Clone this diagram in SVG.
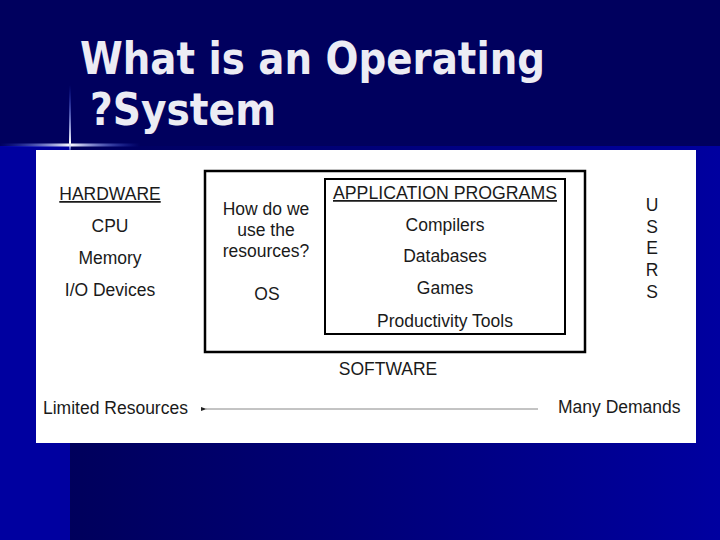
<svg xmlns="http://www.w3.org/2000/svg" width="720" height="540" viewBox="0 0 720 540">
<defs>
<linearGradient id="bg" x1="0" y1="0" x2="1" y2="0">
<stop offset="0" stop-color="#00005c"/>
<stop offset="0.45" stop-color="#000078"/>
<stop offset="1" stop-color="#0000a0"/>
</linearGradient>
<linearGradient id="hglow" x1="0" y1="0" x2="1" y2="0">
<stop offset="0" stop-color="#3050ff" stop-opacity="0"/>
<stop offset="0.5" stop-color="#ffffff"/>
<stop offset="1" stop-color="#3050ff" stop-opacity="0"/>
</linearGradient>
<linearGradient id="vglow" x1="0" y1="0" x2="0" y2="1">
<stop offset="0" stop-color="#3050ff" stop-opacity="0"/>
<stop offset="0.8" stop-color="#ffffff"/>
<stop offset="1" stop-color="#3050ff" stop-opacity="0"/>
</linearGradient>
<marker id="ah" viewBox="0 0 10 10" refX="1" refY="5" markerWidth="6" markerHeight="6" orient="auto-start-reverse">
<path d="M0,5 L10,1.5 L10,8.5 Z" fill="#222"/>
</marker>
<style>
.t{font-family:"Liberation Sans",Arial,sans-serif;font-size:17.5px;fill:#1a1a1a;text-anchor:middle}
.l{text-anchor:start}
.title{font-family:"DejaVu Sans",Tahoma,sans-serif;font-weight:bold;font-size:45px;fill:#ececf4}
.box{fill:none;stroke:#000}
</style>
</defs>
<rect x="0" y="0" width="720" height="540" fill="#0000a0"/>
<rect x="70" y="146" width="650" height="394" fill="url(#bg)"/>
<rect x="0" y="0" width="720" height="146" fill="#00005e"/>
<rect x="0" y="143.5" width="140" height="3" fill="url(#hglow)"/>
<rect x="69" y="85" width="2" height="72" fill="url(#vglow)"/>
<text class="title" x="80" y="74" textLength="465" lengthAdjust="spacingAndGlyphs">What is an Operating</text>
<text class="title" x="90" y="125" textLength="186" lengthAdjust="spacingAndGlyphs">?System</text>
<rect x="36" y="150" width="660" height="293" fill="#ffffff"/>
<g id="hardware">
<text class="t" x="110" y="200" text-decoration="underline">HARDWARE</text>
<text class="t" x="110" y="232">CPU</text>
<text class="t" x="110" y="264">Memory</text>
<text class="t" x="110" y="296">I/O Devices</text>
</g>
<g id="software">
<rect class="box" x="205" y="171" width="380" height="181" stroke-width="2.5"/>
<text class="t" x="266" y="215">How do we</text>
<text class="t" x="266" y="236">use the</text>
<text class="t" x="266" y="257">resources?</text>
<text class="t" x="267" y="300">OS</text>
<text class="t" x="388" y="375">SOFTWARE</text>
</g>
<g id="apps">
<rect class="box" x="325" y="179" width="240" height="155" stroke-width="2"/>
<text class="t" x="445" y="199" text-decoration="underline" textLength="224" lengthAdjust="spacingAndGlyphs">APPLICATION PROGRAMS</text>
<text class="t" x="445" y="231">Compilers</text>
<text class="t" x="445" y="262">Databases</text>
<text class="t" x="445" y="294">Games</text>
<text class="t" x="445" y="327">Productivity Tools</text>
</g>
<g id="users">
<text class="t" x="652" y="211">U</text>
<text class="t" x="652" y="233">S</text>
<text class="t" x="652" y="254">E</text>
<text class="t" x="652" y="276">R</text>
<text class="t" x="652" y="298">S</text>
</g>
<g id="limited">
<text class="t l" x="43" y="414">Limited Resources</text>
</g>
<g id="demands">
<text class="t l" x="558" y="413">Many Demands</text>
</g>
<g id="connectors">
<line x1="538" y1="409" x2="206" y2="409" stroke="#888" stroke-width="1" marker-end="url(#ah)"/>
</g>
</svg>
